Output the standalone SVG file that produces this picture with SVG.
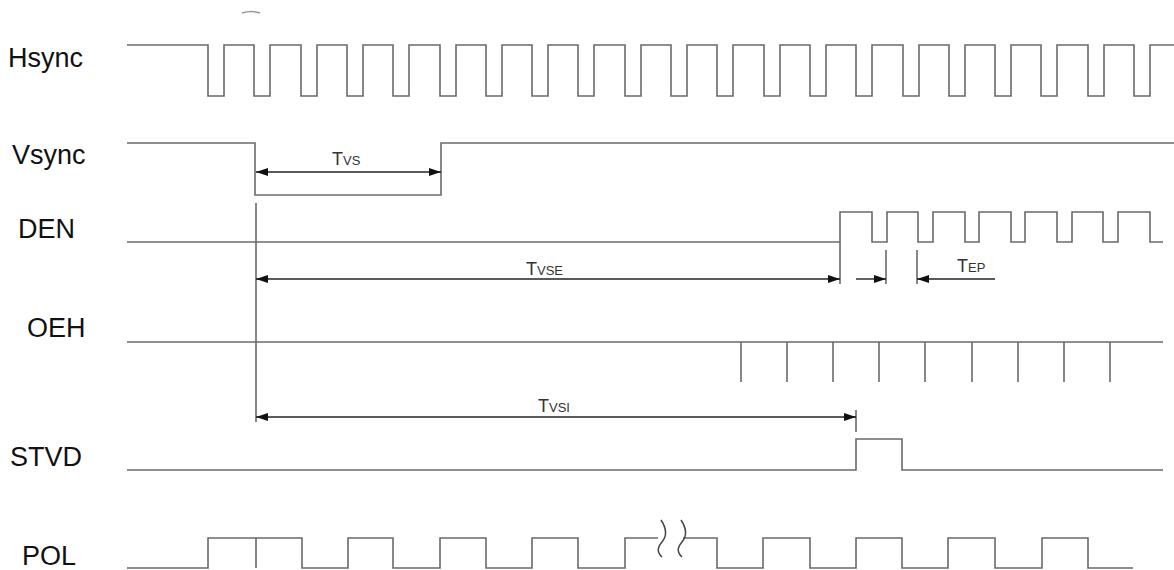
<svg xmlns="http://www.w3.org/2000/svg" width="1174" height="570" viewBox="0 0 1174 570">
<style>
.sig{fill:none;stroke:#6a6a6a;stroke-width:1.6}
.dim{fill:none;stroke:#222;stroke-width:1.4}
.lbl{font-family:"Liberation Sans",Arial,sans-serif;font-size:27px;fill:#111}
.t{font-family:"Liberation Sans",Arial,sans-serif;font-size:18px;fill:#333}
.s{font-size:13px}
</style>
<defs>
<marker id="ah" viewBox="0 0 12 8" refX="12" refY="4" markerWidth="12" markerHeight="8" markerUnits="userSpaceOnUse" orient="auto-start-reverse">
<path d="M0,0 L12,4 L0,8 z" fill="#111"/>
</marker>
</defs>
<rect width="1174" height="570" fill="#fff"/>
<path d="M242,13 Q251,10 260,13" fill="none" stroke="#999" stroke-width="1.5"/>

<g id="hsync">
<text class="lbl" x="8" y="67">Hsync</text>
<path class="sig" d="M127,45 H208 V96 H224 V45 H254 V96 H270 V45 H301 V96 H317 V45 H347 V96 H363 V45 H393 V96 H409 V45 H440 V96 H456 V45 H486 V96 H502 V45 H532 V96 H548 V45 H578 V96 H594 V45 H625 V96 H641 V45 H671 V96 H687 V45 H717 V96 H733 V45 H764 V96 H780 V45 H810 V96 H826 V45 H856 V96 H872 V45 H903 V96 H919 V45 H949 V96 H965 V45 H995 V96 H1011 V45 H1041 V96 H1057 V45 H1088 V96 H1104 V45 H1134 V96 H1150 V45 H1174"/>
</g>

<g id="vsync">
<text class="lbl" x="12" y="164">Vsync</text>
<path class="sig" d="M127,143 H255 V195 H441 V143 H1174"/>
</g>

<g id="den">
<text class="lbl" x="18" y="238">DEN</text>
<path class="sig" d="M127,242 H840 V212 H872 V242 H887 V212 H918 V242 H933 V212 H965 V242 H979 V212 H1011 V242 H1025 V212 H1057 V242 H1072 V212 H1103 V242 H1118 V212 H1150 V242 H1163"/>
</g>

<g id="oeh">
<text class="lbl" x="27" y="337">OEH</text>
<path class="sig" d="M127,342 H1163 M741,342 V382 M787,342 V382 M833,342 V382 M879,342 V382 M925,342 V382 M972,342 V382 M1018,342 V382 M1064,342 V382 M1110,342 V382" stroke="#333"/>
</g>

<g id="stvd">
<text class="lbl" x="10" y="466">STVD</text>
<path class="sig" d="M127,470 H856 V439 H902 V470 H1163"/>
</g>

<g id="pol">
<text class="lbl" x="22" y="565">POL</text>
<path class="sig" d="M127,568 H208 V538 H302 V568 H348 V538 H393 V568 H440 V538 H486 V568 H532 V538 H578 V568 H625 V538 H658 M683,538 H717 V568 H763 V538 H810 V568 H856 V538 H902 V568 H948 V538 H995 V568 H1042 V538 H1088 V568 H1133 M256,538 V568"/>
<path d="M661,520 C667,529 667,536 662,542 C657,548 657,552 662,557 M681,520 C687,529 687,536 682,542 C677,548 677,552 682,557" fill="none" stroke="#444" stroke-width="1.5"/>
</g>

<g id="connectors">
<path class="sig" d="M256,203 V422 M840,242 V284 M886,250 V284 M917,250 V284 M856,410 V432"/>
<line class="dim" x1="256" y1="172" x2="441" y2="172" marker-start="url(#ah)" marker-end="url(#ah)"/>
<line class="dim" x1="256" y1="279" x2="840" y2="279" marker-start="url(#ah)" marker-end="url(#ah)"/>
<line class="dim" x1="856" y1="279" x2="886" y2="279" marker-end="url(#ah)"/>
<line class="dim" x1="995" y1="279" x2="917" y2="279" marker-end="url(#ah)"/>
<line class="dim" x1="256" y1="417" x2="856" y2="417" marker-start="url(#ah)" marker-end="url(#ah)"/>
<text class="t" x="332" y="165">T<tspan class="s">VS</tspan></text>
<text class="t" x="526" y="275">T<tspan class="s">VSE</tspan></text>
<text class="t" x="538" y="412">T<tspan class="s">VSI</tspan></text>
<text class="t" x="957" y="272">T<tspan class="s">EP</tspan></text>
</g>
</svg>
